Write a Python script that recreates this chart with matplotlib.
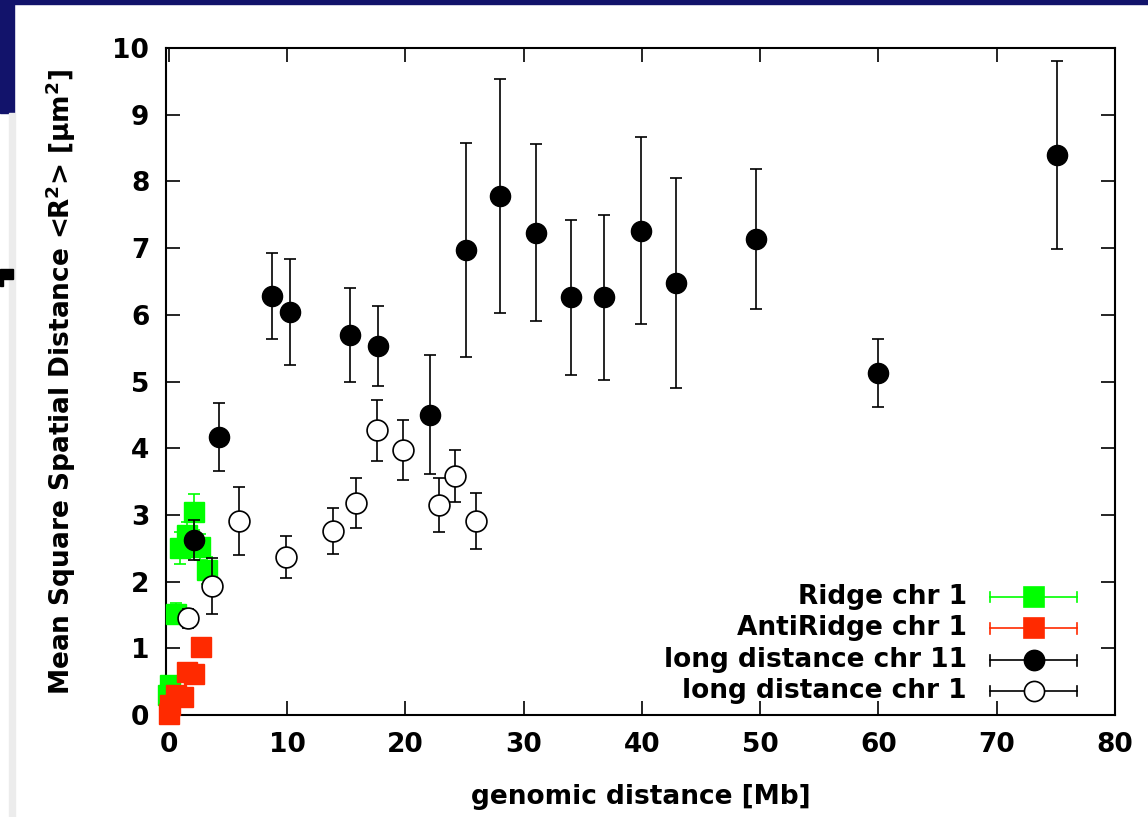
import matplotlib
matplotlib.use('Agg')
import matplotlib.pyplot as plt
from matplotlib.patches import Rectangle

plt.rcParams['font.family'] = ['DejaVu Sans']
plt.rcParams['font.weight'] = 'bold'
plt.rcParams['mathtext.fontset'] = 'custom'
plt.rcParams['mathtext.rm'] = 'DejaVu Sans'
plt.rcParams['mathtext.bf'] = 'DejaVu Sans:bold'
plt.rcParams['mathtext.it'] = 'DejaVu Sans'

# Ridge chr 1 (green squares)
ridge_x = [-0.1, 0.05, 0.6, 0.9, 1.5, 2.1, 2.6, 3.2]
ridge_y = [0.30, 0.45, 1.52, 2.50, 2.70, 3.05, 2.52, 2.17]
ridge_err = [0.05, 0.05, 0.16, 0.24, 0.20, 0.27, 0.20, 0.20]

# AntiRidge chr 1 (red squares)
anti_x = [0.0, 0.05, 0.6, 1.2, 1.5, 2.1, 2.7]
anti_y = [0.02, 0.15, 0.30, 0.27, 0.65, 0.62, 1.02]
anti_err = [0.03, 0.03, 0.04, 0.04, 0.05, 0.05, 0.05]

# long distance chr 11 (filled circles)
chr11_x = [2.1, 4.2, 8.7, 10.2, 15.3, 17.7, 22.1, 25.1, 28.0, 31.0, 34.0,
           36.8, 39.9, 42.9, 49.6, 60.0, 75.1]
chr11_y = [2.62, 4.17, 6.28, 6.04, 5.70, 5.53, 4.50, 6.97, 7.78, 7.23, 6.26,
           6.26, 7.26, 6.48, 7.14, 5.13, 8.40]
chr11_err = [0.30, 0.51, 0.64, 0.80, 0.70, 0.60, 0.89, 1.60, 1.75, 1.33, 1.16,
             1.24, 1.40, 1.57, 1.05, 0.51, 1.41]

# long distance chr 1 (open circles)
chr1_x = [1.6, 3.6, 5.9, 9.9, 13.9, 15.8, 17.6, 19.8, 22.8, 24.2, 26.0]
chr1_y = [1.45, 1.93, 2.91, 2.37, 2.76, 3.18, 4.27, 3.97, 3.15, 3.58, 2.91]
chr1_err = [0.14, 0.42, 0.51, 0.31, 0.34, 0.38, 0.46, 0.45, 0.41, 0.39, 0.42]

labels = ['Ridge chr 1', 'AntiRidge chr 1', 'long distance chr 11', 'long distance chr 1']
green = '#00ff00'
red = '#ff2a00'
fs = 19

fig = plt.figure(figsize=(11.48, 8.17), dpi=100)

# slide decorations
navy = '#12136b'
fig.patches.append(Rectangle((0, 1 - 4 / 817), 1, 4 / 817, transform=fig.transFigure,
                             color=navy, zorder=0))
fig.patches.append(Rectangle((0, 1 - 113 / 817), 14 / 1148, 113 / 817, transform=fig.transFigure,
                             color=navy, zorder=0))
fig.patches.append(Rectangle((9 / 1148, 0), 6 / 1148, 1 - 113 / 817, transform=fig.transFigure,
                             color='#ececec', zorder=0))
fig.patches.append(Rectangle((0, 1 - 279 / 817), 13 / 1148, 10 / 817, transform=fig.transFigure,
                             color='black', zorder=0))
fig.patches.append(Rectangle((0, 1 - 286 / 817), 3 / 1148, 8 / 817, transform=fig.transFigure,
                             color='black', zorder=0))

ax = fig.add_axes([166 / 1148, 1 - 715 / 817, (1115 - 166) / 1148, (715 - 48) / 817])

common = dict(linestyle='none', elinewidth=1.2, capsize=4, capthick=1.2, clip_on=False)
ax.errorbar(ridge_x, ridge_y, yerr=ridge_err, fmt='s', color=green, ms=15, mec=green,
            ecolor=green, zorder=3, **common)
ax.errorbar(anti_x, anti_y, yerr=anti_err, fmt='s', color=red, ms=15, mec=red,
            ecolor=red, zorder=4, **common)
ax.errorbar(chr11_x, chr11_y, yerr=chr11_err, fmt='o', color='black', ms=14.5,
            ecolor='black', zorder=5, **common)
ax.errorbar(chr1_x, chr1_y, yerr=chr1_err, fmt='o', mfc='white', mec='black', mew=1.2,
            ms=15, ecolor='black', zorder=6, **common)

ax.set_xlim(-0.25, 80)
ax.set_ylim(0, 10)
ax.set_xticks(range(0, 81, 10))
ax.set_yticks(range(0, 11))
ax.tick_params(direction='in', length=10, width=1.2, top=True, right=True,
               labelsize=fs, pad=12)
for s in ax.spines.values():
    s.set_linewidth(1.5)

ax.set_xlabel('genomic distance [Mb]', fontsize=fs, fontweight='bold', labelpad=19)
ax.set_ylabel(r'Mean Square Spatial Distance <R$^{\mathbf{2}}$> [$\mu$m$^{\mathbf{2}}$]',
              fontsize=fs, fontweight='bold', labelpad=25)

# gnuplot style key
rows = [0.177, 0.130, 0.082, 0.036]
cols = [green, red, 'black', 'black']
marks = ['s', 's', 'o', 'o']
faces = [green, red, 'black', 'white']
for lab, yy, c, m, f in zip(labels, rows, cols, marks, faces):
    ax.text(0.844, yy, lab, transform=ax.transAxes, ha='right', va='center',
            fontsize=fs, fontweight='bold')
    ax.plot([0.868, 0.960], [yy, yy], transform=ax.transAxes, color=c, lw=1.2,
            clip_on=False, zorder=7)
    for xx in (0.868, 0.960):
        ax.plot([xx, xx], [yy - 0.008, yy + 0.008], transform=ax.transAxes, color=c,
                lw=1.2, clip_on=False, zorder=7)
    ax.plot([0.915], [yy], transform=ax.transAxes, marker=m, ms=15 if m == 's' else 14.5,
            mfc=f, mec=c, mew=1.2, linestyle='none', clip_on=False, zorder=8)

fig.savefig('out.png', dpi=100)
